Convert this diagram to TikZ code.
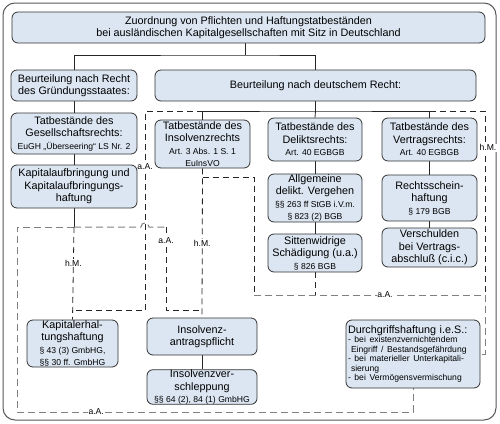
\documentclass[tikz,border=0pt]{standalone}
\usepackage{fontspec}
\setmainfont{Liberation Sans}
\usetikzlibrary{backgrounds}
\newcommand\mf{\fontsize{10.8}{12.5}\selectfont}
\newcommand\sm{\fontsize{8.6}{9.4}\selectfont}
\definecolor{boxfill}{HTML}{DCE6F2}
\definecolor{lgrey}{HTML}{808080}
\begin{document}
\begin{tikzpicture}[x=1pt,y=-1pt,
  bx/.style={draw=black!80, fill=boxfill, rounded corners=6pt, align=center, inner sep=0pt, font=\mf, line width=0.8pt},
  conn/.style={draw=black!85, line width=0.8pt},
  dsh/.style={conn, dash pattern=on 6pt off 4pt},
  gdsh/.style={draw=lgrey, line width=1pt, dash pattern=on 7pt off 4pt},
  lbl/.style={fill=white, inner sep=0.8pt, font=\sm, text=black}]
\useasboundingbox (0,0) rectangle (500,423);
% boxes
\node[bx, minimum width=473pt, minimum height=31pt] (title) at (248.5,27.5) {Zuordnung von Pflichten und Haftungstatbeständen\\bei ausländischen Kapitalgesellschaften mit Sitz in Deutschland};
\node[bx, minimum width=126pt, minimum height=31pt] (gruend) at (74,85.5) {Beurteilung nach Recht\\des Gründungsstaates:};
\node[bx, minimum width=321pt, minimum height=31pt] (deutsch) at (315.5,85.5) {Beurteilung nach deutschem Recht:};
\node[bx, minimum width=126pt, minimum height=41pt] (gesell) at (74,133.5) {Tatbestände des\\Gesellschaftsrechts:\\\sm EuGH „Überseering“ LS Nr. 2\par};
\node[bx, minimum width=126pt, minimum height=43pt] (kapauf) at (74,186.5) {Kapitalaufbringung und\\Kapitalaufbringungs-\\haftung};
\node[bx, minimum width=95pt, minimum height=48pt] (insolv) at (202.5,144) {Tatbestände des\\Insolvenzrechts\\\sm Art. 3 Abs. 1 S. 1\\\sm EuInsVO\par};
\node[bx, minimum width=94pt, minimum height=43pt] (delikt) at (315,139.5) {Tatbestände des\\Deliktsrechts:\\\sm Art. 40 EGBGB\par};
\node[bx, minimum width=95pt, minimum height=43pt] (vertrag) at (429.5,139.5) {Tatbestände des\\Vertragsrechts:\\\sm Art. 40 EGBGB\par};
\node[bx, minimum width=94pt, minimum height=48pt] (allg) at (315,198) {Allgemeine\\delikt. Vergehen\\\sm §§ 263 ff StGB i.V.m.\\\sm § 823 (2) BGB\par};
\node[bx, minimum width=95pt, minimum height=46pt] (rechts) at (429.5,198) {Rechtsschein-\\haftung\\\sm § 179 BGB\par};
\node[bx, minimum width=94pt, minimum height=38pt] (sitten) at (315,253) {Sittenwidrige\\Schädigung (u.a.)\\\sm § 826 BGB\par};
\node[bx, minimum width=95pt, minimum height=39pt] (versch) at (429.5,247.5) {Verschulden\\bei Vertrags-\\abschluß (c.i.c.)};
\node[bx, minimum width=91pt, minimum height=47pt] (kaperh) at (72.5,343.5) {Kapitalerhal-\\tungshaftung\\\sm § 43 (3) GmbHG,\\\sm §§ 30 ff. GmbHG\par};
\node[bx, minimum width=110pt, minimum height=37pt] (antrag) at (202,336.5) {Insolvenz-\\antragspflicht};
\node[bx, minimum width=110pt, minimum height=34pt] (verschl) at (202,387) {Insolvenzver-\\schleppung\\\sm §§ 64 (2), 84 (1) GmbHG\par};
\node[bx, align=left, text width=130pt, minimum width=134pt, minimum height=68pt] (durch) at (413,354) {Durchgriffshaftung i.e.S.:\\\sm - bei existenzvernichtendem\\\sm\hspace*{3pt}Eingriff / Bestandsgefährdung\\\sm - bei materieller Unterkapitali-\\\sm\hspace*{3pt}sierung\\\sm - bei Vermögensvermischung\par};
% junction coordinates
\coordinate (tj) at (245,55);
\coordinate (bj) at (315.5,111);
\coordinate (b1) at (202.5,111);
\coordinate (b3) at (429.5,111);
\coordinate (jL) at (74,227);
\coordinate (ib) at (202.5,177);
\coordinate (sj) at (315,295);
\coordinate (rj) at (485,295);
\begin{scope}[on background layer]
\fill[white] (0,0) rectangle (500,423);
\draw[draw=black!65, line width=1pt, rounded corners=12pt] (3,3) rectangle (496,420);
% solid tree
\draw[conn] (title.south -| tj) -- (tj);
\draw[conn] (gruend.north) |- (tj) -| (deutsch.north);
\draw[conn] (gruend.south) -- (gesell.north);
\draw[conn] (gesell.south) -- (kapauf.north);
\draw[conn] (kapauf.south) -- (jL);
\draw[conn] (deutsch.south) -- (bj);
\draw[conn] (insolv.north) |- (bj) -| (vertrag.north);
\draw[conn] (bj) -- (delikt.north);
\draw[conn] (delikt.south) -- (allg.north);
\draw[conn] (allg.south) -- (sitten.north);
\draw[conn] (vertrag.south) -- (rechts.north);
\draw[conn] (rechts.south) -- (versch.north);
\draw[conn] (antrag.south) -- (verschl.north);
% grey dashed (a.A.)
\draw[gdsh] (jL) -- (17,227) -- (17,412) -- node[lbl, pos=0.2]{a.A.} (durch.south |- 0,412) -- (durch.south);
\draw[gdsh] (jL) -- (141,227) .. controls (141,221.5) and (149,221.5) .. (149,227) -- (166,227);
\draw[gdsh] (254,295) -- node[lbl, pos=0.567]{a.A.} (rj) |- (durch.east);
% black dashed
\draw[dsh] (166,227) -- node[lbl, pos=0.16]{a.A.} (166,310) -- (antrag.north |- 0,310);
\draw[dsh] (jL) -- node[lbl, pos=0.39]{h.M.} (kaperh.north);
\draw[dsh] (b1) -- (145,111) -- node[lbl, pos=0.28]{a.A.} (145,310) -- (kaperh.north |- 0,310);
\draw[dsh] (insolv.south) -- node[lbl, pos=0.5]{h.M.} (antrag.north);
\draw[dsh] (ib) -- (254,177) -- (254,295);
\draw[dsh] (sitten.south) -- (sj);
\draw[dsh] (b3) -- (485,111) -- node[lbl, pos=0.2, xshift=3pt]{h.M.} (rj);
\end{scope}
\end{tikzpicture}
\end{document}
